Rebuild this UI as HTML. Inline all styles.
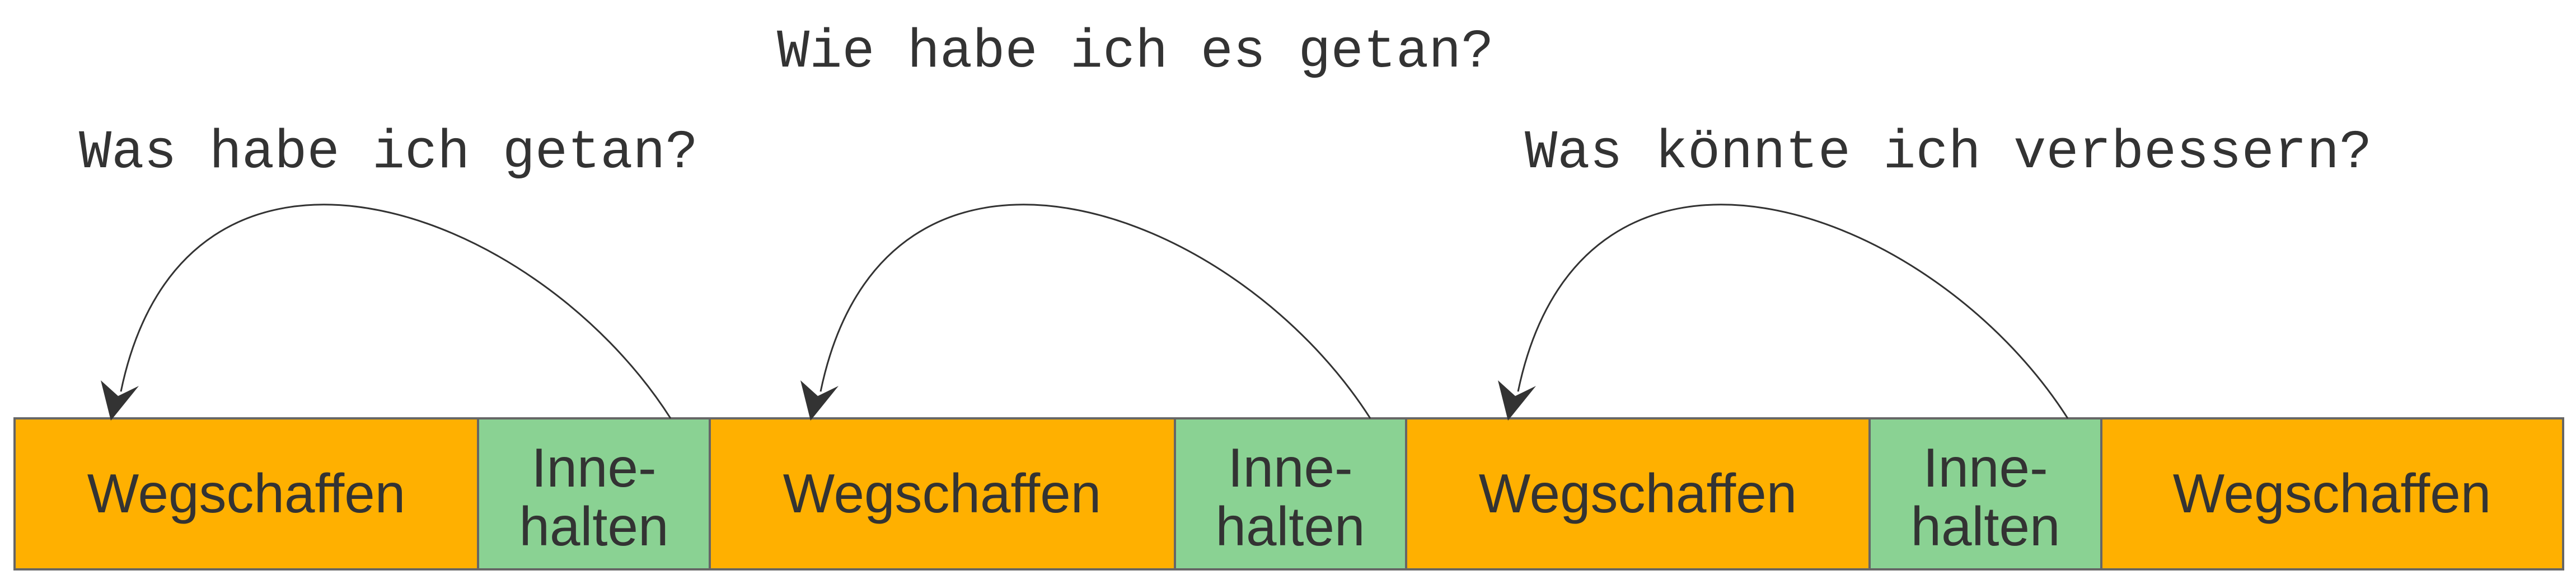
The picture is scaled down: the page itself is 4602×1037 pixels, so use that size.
<!DOCTYPE html>
<html><head><meta charset="utf-8"><style>
html,body{margin:0;padding:0;background:#fff}
body{width:4602px;height:1037px;position:relative;overflow:hidden}
.m{position:absolute;font-family:"Liberation Mono",monospace;font-size:97px;color:#333;white-space:nowrap;line-height:1}
</style></head><body>
<div class="m" style="left:141px;top:226px">Was habe ich getan?</div>
<div class="m" style="left:1388px;top:46px">Wie habe ich es getan?</div>
<div class="m" style="left:2724px;top:226px">Was könnte ich verbessern?</div>
<svg width="4602" height="1037" style="position:absolute;left:0;top:0">
<g font-family="Liberation Sans, sans-serif" font-size="98" fill="#333" text-anchor="middle">
<rect x="26" y="748" width="828" height="270" fill="#ffb000" stroke="#666" stroke-width="4"/>
<rect x="854" y="748" width="414" height="270" fill="#8ad293" stroke="#666" stroke-width="4"/>
<rect x="1268" y="748" width="831" height="270" fill="#ffb000" stroke="#666" stroke-width="4"/>
<rect x="2099" y="748" width="413" height="270" fill="#8ad293" stroke="#666" stroke-width="4"/>
<rect x="2512" y="748" width="828" height="270" fill="#ffb000" stroke="#666" stroke-width="4"/>
<rect x="3340" y="748" width="414" height="270" fill="#8ad293" stroke="#666" stroke-width="4"/>
<rect x="3754" y="748" width="825" height="270" fill="#ffb000" stroke="#666" stroke-width="4"/>
<text x="440" y="916">Wegschaffen</text>
<text x="1061" y="870">Inne-</text><text x="1061" y="975">halten</text>
<text x="1683" y="916">Wegschaffen</text>
<text x="2305" y="870">Inne-</text><text x="2305" y="975">halten</text>
<text x="2926" y="916">Wegschaffen</text>
<text x="3547" y="870">Inne-</text><text x="3547" y="975">halten</text>
<text x="4166" y="916">Wegschaffen</text>
</g>
<g id="a" fill="none" stroke="#333" stroke-width="3">
<path d="M1198,748 C950,360 330,150 216,700"/>
<polygon points="198,752 180,680 211,708 248,690" fill="#333" stroke="none"/>
</g>
<use href="#a" x="1250"/>
<use href="#a" x="2496"/>
</svg>
</body></html>
